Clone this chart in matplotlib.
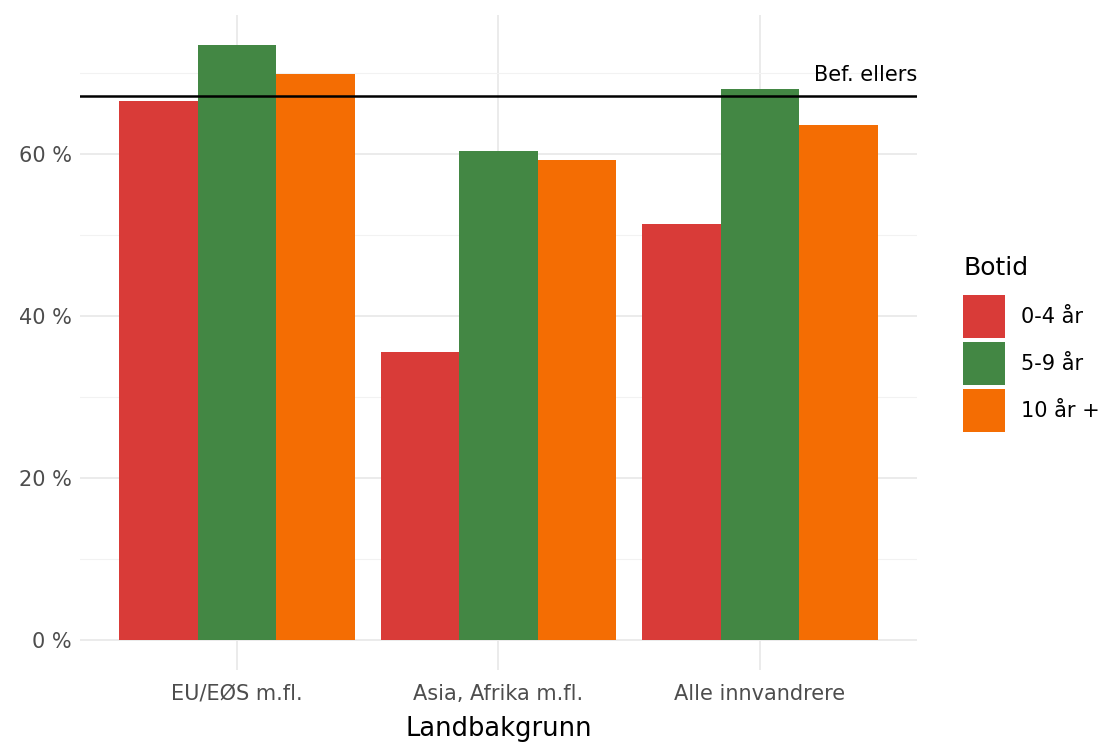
import numpy as np
import matplotlib.pyplot as plt
from matplotlib.ticker import FuncFormatter

# data
categories = ["EU/EØS m.fl.", "Asia, Afrika m.fl.", "Alle innvandrere"]
groups = ["0-4 år", "5-9 år", "10 år +"]
v_0_4 = [66.5, 35.6, 51.4]
v_5_9 = [73.5, 60.4, 68.0]
v_10 = [69.9, 59.3, 63.6]
bef_ellers = 67.2
colors = ["#D93B38", "#438744", "#F46D03"]

plt.rcParams['font.family'] = ['DejaVu Sans']

fig = plt.figure(figsize=(11.01, 7.42), dpi=100)
ax = fig.add_axes([0.0727, 0.097, 0.760, 0.883])

x = np.arange(len(categories))
w = 0.3
for i, (vals, lab) in enumerate(zip([v_0_4, v_5_9, v_10], groups)):
    ax.bar(x + (i - 1) * w, vals, width=w, color=colors[i], label=lab, zorder=2)

ax.axhline(bef_ellers, color="black", lw=1.8, zorder=3)
ax.text(2.6, bef_ellers + 1.3, "Bef. ellers", ha="right", va="bottom",
        fontsize=15, color="black")

ax.set_xlim(-0.6, 2.6)
ax.set_ylim(-3.7, 77.2)
ax.set_yticks([0, 20, 40, 60])
ax.set_yticks([10, 30, 50, 70], minor=True)
ax.yaxis.set_major_formatter(FuncFormatter(lambda v, p: f"{v:.0f} %"))
ax.set_xticks(x)
ax.set_xticklabels(categories)

ax.grid(True, which="major", color="#EBEBEB", lw=1.4, zorder=0)
ax.grid(True, which="minor", axis="y", color="#F2F2F2", lw=0.8, zorder=0)
ax.set_axisbelow(True)
for s in ax.spines.values():
    s.set_visible(False)
ax.tick_params(axis="both", which="both", length=0, labelsize=15,
               labelcolor="#4D4D4D", pad=6)
ax.tick_params(axis="x", pad=10)

ax.set_xlabel("Landbakgrunn", fontsize=18.5, color="black", labelpad=9)

# legend: title as separate text, keys below
fig.text(963 / 1101, (742 - 268) / 742, "Botid", fontsize=18, ha="left", va="center")
handles, labels = ax.get_legend_handles_labels()
fig.legend(handles, labels, loc="center left",
           bbox_to_anchor=(963 / 1101, (742 - 363.5) / 742),
           frameon=False, fontsize=15, borderpad=0, borderaxespad=0,
           handlelength=2.0, handleheight=2.8, labelspacing=0.2,
           handletextpad=0.8)

fig.savefig("out.png", dpi=100)
